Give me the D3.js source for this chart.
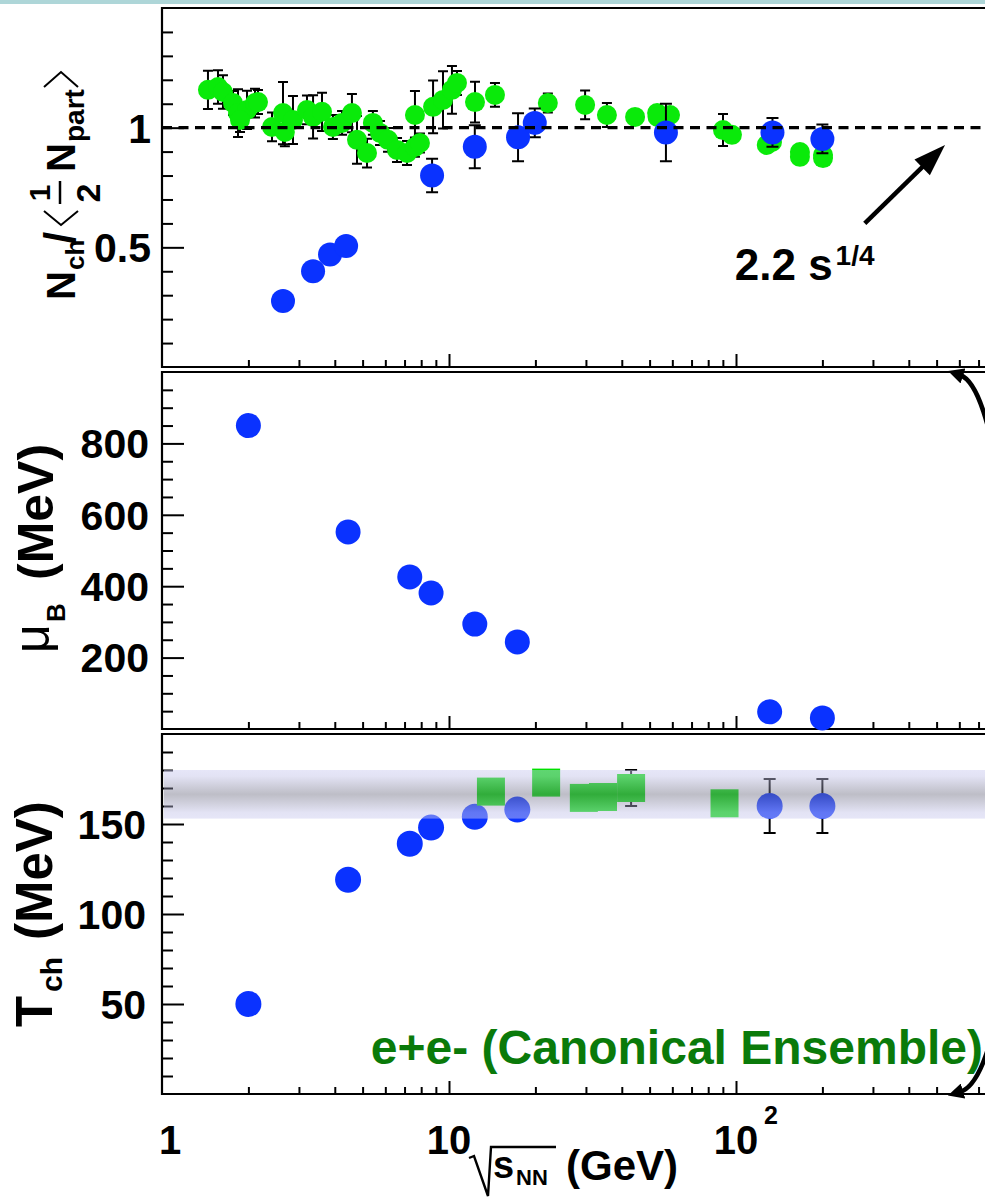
<!DOCTYPE html>
<html><head><meta charset="utf-8">
<script src="https://cdn.jsdelivr.net/npm/d3@7"></script>
<style>
html,body{margin:0;padding:0;background:#fff;}
svg{display:block;}
text{font-family:"Liberation Sans",Arial,Helvetica,sans-serif;}
</style></head><body>
<svg id="chart" width="985" height="1201"></svg>
<script>
// ---------- DATA ----------
// Panel 1: Nch / <Npart/2>
const nchBlueX   = [2.64, 3.36, 3.85, 4.38, 8.73, 12.3, 17.4, 19.9, 57, 134, 200];
const nchBlueY   = [0.276, 0.40, 0.47, 0.506, 0.80, 0.92, 0.96, 1.02, 0.98, 0.98, 0.953];
const nchBlueErr = [0, 0, 0, 0, 0.07, 0.09, 0.10, 0.06, 0.12, 0.06, 0.06];

const nchGreenX = [1.446, 1.567, 1.631, 1.768, 1.84, 1.978, 2.109, 2.16, 1.87, 2.417, 2.64, 2.68, 2.86, 3.20, 3.36, 3.61,
  3.94, 4.24, 4.59, 4.78, 5.18, 5.43, 5.75, 6.13, 6.59, 7.14, 7.61, 7.92, 7.61, 8.80, 9.53, 10.24, 10.66, 12.32, 14.46,
  22.1, 29.8, 35.5, 44.5, 53.1, 58.9, 53.3, 90.1, 96.8, 128, 133.5, 167, 201, 167, 201];
const nchGreenY = [1.158, 1.170, 1.149, 1.103, 1.061, 1.074, 1.103, 1.107, 1.032, 1.003, 1.061, 0.982, 1.032, 1.074, 1.045, 1.066,
  1.003, 1.020, 1.061, 0.949, 0.894, 1.020, 0.978, 0.949, 0.907, 0.894, 0.919, 0.936, 1.053, 1.087, 1.116, 1.158, 1.187, 1.107, 1.137,
  1.103, 1.095, 1.053, 1.045, 1.061, 1.053, 1.045, 0.990, 0.970, 0.928, 0.940, 0.898, 0.886, 0.878, 0.873];
const nchGreenErr = [0.08, 0.07, 0.07, 0.05, 0.10, 0.08, 0.06, 0.05, 0.05, 0.06, 0.13, 0.06, 0.10, 0.06, 0.09, 0.08,
  0.05, 0.05, 0.08, 0.10, 0.06, 0.05, 0.05, 0.05, 0.05, 0.05, 0.04, 0.04, 0.10, 0.11, 0.12, 0.10, 0.05, 0.085, 0.05,
  0.04, 0.06, 0.05, 0.01, 0.02, 0.02, 0.02, 0.067, 0.02, 0.02, 0.02, 0.02, 0.03, 0.02, 0.02];

// Panel 2: mu_B (MeV)
const muX = [2.0, 4.45, 7.3, 8.66, 12.3, 17.3, 131, 200];
const muY = [850, 552, 426, 381, 294, 244, 48, 31];

// Panel 3: T_ch (MeV)
const tBlueX   = [2.0, 4.45, 7.3, 8.66, 12.3, 17.3, 131, 200];
const tBlueY   = [50, 119, 139, 148, 154, 158, 160, 160];
const tBlueErr = [0, 0, 0, 0, 0, 0, 15, 15];
const tGreenX   = [14.0, 21.8, 29.5, 34.4, 43.1, 91.2];
const tGreenY   = [168, 173, 164.5, 165, 170, 161.5];
const tGreenErr = [0, 0, 0, 0, 10, 0];
const tBand = [153, 180];

// Ticks
const xMajorTicks = [1, 10, 100, 1000];
const xMinorTicks = [2,3,4,5,6,7,8,9,20,30,40,50,60,70,80,90,200,300,400,500,600,700,800,900];
const nchMajor = [0.5, 1];
const nchMinor = [0.1,0.2,0.3,0.4,0.6,0.7,0.8,0.9,1.1,1.2,1.3,1.4];
const muMajor = [200, 400, 600, 800];
const muMinor = [50,100,150,250,300,350,450,500,550,650,700,750,850,900,950];
const tMajor = [50, 100, 150];
const tMinor = [10,20,30,40,60,70,80,90,110,120,130,140,160,170,180,190];

// Annotations (data coordinates)
const refLineY = 1;
const arrowFrom = [281, 0.60];
const arrowTo = [535, 0.928];
const sLabelPos = [99, 0.364];

// ---------- DRAW ----------
const W = 985, H = 1201;
const BLUE = "#0a32ff", GREEN = "#0aea0a";
const svg = d3.select("#chart");
svg.append("rect").attr("width", W).attr("height", H).attr("fill", "#fff");
svg.append("rect").attr("x", 0).attr("y", 0).attr("width", W).attr("height", 4).attr("fill", "#aed6d8");

const defs = svg.append("defs");
const grad = defs.append("linearGradient").attr("id", "band").attr("x1", 0).attr("y1", 0).attr("x2", 0).attr("y2", 1);
[[0, "rgb(202,202,240)", 0.47], [0.13, "rgb(195,195,232)", 0.47], [0.5, "rgb(110,110,130)", 0.45],
 [0.87, "rgb(195,195,232)", 0.47], [1, "rgb(202,202,240)", 0.47]].forEach(s =>
  grad.append("stop").attr("offset", s[0]).attr("stop-color", s[1]).attr("stop-opacity", s[2]));
defs.append("marker").attr("id", "hook").attr("viewBox", "0 0 10 10").attr("refX", 2).attr("refY", 5)
  .attr("markerWidth", 3.5).attr("markerHeight", 3.5).attr("orient", "auto-start-reverse")
  .append("path").attr("d", "M0,0L10,5L0,10z").attr("fill", "#000");

const x = d3.scaleLog().domain([1, 1000]).range([162, 1023]);
const y1 = d3.scaleLinear().domain([0, 1.5]).range([367, 8]);
const y2 = d3.scaleLinear().domain([0, 1000]).range([729, 372]);
const y3 = d3.scaleLinear().domain([0, 200]).range([1094, 734]);
const x0 = x(1);

function frame(y) {
  const [b, t] = y.range();
  const g = svg.append("g");
  const gx = g.append("g").attr("transform", `translate(0,${b})`);
  gx.call(d3.axisBottom(x).tickValues(xMinorTicks).tickSize(-7).tickFormat(""));
  gx.append("g").call(d3.axisBottom(x).tickValues(xMajorTicks.filter(v => v > 1)).tickSize(-13).tickFormat(""));
  gx.selectAll(".domain").remove();
  gx.selectAll("line").attr("stroke", "#000").attr("stroke-width", 2);
  g.append("path").attr("d", `M${W + 20},${t}H${x0}V${b}H${W + 20}`)
    .attr("fill", "none").attr("stroke", "#000").attr("stroke-width", 2.2);
}
function yAxis(y, major, minor, fmt, pad) {
  const g = svg.append("g").attr("transform", `translate(${x0},0)`);
  g.call(d3.axisLeft(y).tickValues(minor).tickSize(-11).tickFormat(""));
  const gm = g.append("g").call(d3.axisLeft(y).tickValues(major).tickSize(-22).tickPadding(pad).tickFormat(fmt));
  g.selectAll(".domain").remove();
  g.selectAll("line").attr("stroke", "#000").attr("stroke-width", 2);
  gm.selectAll("text").attr("font-family", "Liberation Sans, Arial, sans-serif")
    .attr("font-size", 41).attr("font-weight", "bold").attr("fill", "#000").attr("dy", "0.35em");
}

function errBars(g, xs, ys, es, y, cap) {
  const idx = d3.range(xs.length).filter(i => es[i] > 0);
  g.selectAll(null).data(idx).join("path")
    .attr("d", i => {
      const cx = x(xs[i]), lo = y(ys[i] - es[i]), hi = y(ys[i] + es[i]);
      return `M${cx},${lo}V${hi}M${cx - cap},${lo}H${cx + cap}M${cx - cap},${hi}H${cx + cap}`;
    })
    .attr("stroke", "#000").attr("stroke-width", 2).attr("fill", "none");
}

// ----- Panel 1 -----
frame(y1);
yAxis(y1, nchMajor, nchMinor, d => d === 1 ? "1" : "0.5", 11);
const p1 = svg.append("g");
errBars(p1, nchGreenX, nchGreenY, nchGreenErr, y1, 5);
p1.selectAll(null).data(d3.range(nchGreenX.length)).join("circle")
  .attr("cx", i => x(nchGreenX[i])).attr("cy", i => y1(nchGreenY[i])).attr("r", 10).attr("fill", GREEN);
errBars(p1, nchBlueX, nchBlueY, nchBlueErr, y1, 6);
p1.selectAll(null).data(d3.range(nchBlueX.length)).join("circle")
  .attr("cx", i => x(nchBlueX[i])).attr("cy", i => y1(nchBlueY[i])).attr("r", 12).attr("fill", BLUE);
p1.append("line").attr("x1", x0).attr("x2", W).attr("y1", y1(refLineY)).attr("y2", y1(refLineY))
  .attr("stroke", "#000").attr("stroke-width", 3.4).attr("stroke-dasharray", "10,6.5");
{
  const ax1 = x(arrowFrom[0]), ay1 = y1(arrowFrom[1]), ax2 = x(arrowTo[0]), ay2 = y1(arrowTo[1]);
  const dx = ax2 - ax1, dy = ay2 - ay1, L = Math.hypot(dx, dy), ux = dx / L, uy = dy / L;
  const bx = ax2 - 32 * ux, by = ay2 - 32 * uy;
  p1.append("line").attr("x1", ax1).attr("y1", ay1).attr("x2", bx + 3 * ux).attr("y2", by + 3 * uy)
    .attr("stroke", "#000").attr("stroke-width", 4.5);
  p1.append("path").attr("d", `M${ax2},${ay2}L${bx - 11 * uy},${by + 11 * ux}L${bx + 11 * uy},${by - 11 * ux}Z`).attr("fill", "#000");
}
const sl = p1.append("text").attr("x", x(sLabelPos[0])).attr("y", y1(sLabelPos[1]))
  .attr("font-size", 44).attr("font-weight", "bold").attr("fill", "#000");
sl.append("tspan").text("2.2 s");
sl.append("tspan").attr("dy", -15).attr("dx", 3).attr("font-size", 28).text("1/4");

// ----- Panel 2 -----
frame(y2);
yAxis(y2, muMajor, muMinor, d => String(d), 13);
svg.append("g").selectAll(null).data(d3.range(muX.length)).join("circle")
  .attr("cx", i => x(muX[i])).attr("cy", i => y2(muY[i])).attr("r", 12.5).attr("fill", BLUE);

// ----- Panel 3 -----
frame(y3);
yAxis(y3, tMajor, tMinor, d => String(d), 16);
const p3 = svg.append("g");
errBars(p3, tBlueX, tBlueY, tBlueErr, y3, 6);
p3.selectAll(null).data(d3.range(tBlueX.length)).join("circle")
  .attr("cx", i => x(tBlueX[i])).attr("cy", i => y3(tBlueY[i])).attr("r", 13).attr("fill", BLUE);
errBars(p3, tGreenX, tGreenY, tGreenErr, y3, 6);
p3.selectAll(null).data(d3.range(tGreenX.length)).join("rect")
  .attr("x", i => x(tGreenX[i]) - 14).attr("y", i => y3(tGreenY[i]) - 14)
  .attr("width", 28).attr("height", 28).attr("fill", "#00e000");
p3.append("rect").attr("x", x0 + 2).attr("y", y3(tBand[1])).attr("width", W - x0)
  .attr("height", y3(tBand[0]) - y3(tBand[1])).attr("fill", "url(#band)");
svg.append("text").attr("x", 983).attr("y", 1064).attr("text-anchor", "end")
  .attr("font-size", 48).attr("font-weight", "bold").attr("fill", "#0a7a0a")
  .text("e+e- (Canonical Ensemble)");

// right-hand bracket
svg.append("path").attr("d", "M960,375 C1030,398 1040,1068 960,1092")
  .attr("fill", "none").attr("stroke", "#000").attr("stroke-width", 4.5)
  .attr("marker-start", "url(#hook)").attr("marker-end", "url(#hook)");

// ----- X labels -----
const xl = svg.append("g").attr("font-size", 40).attr("font-weight", "bold").attr("fill", "#000");
xl.append("text").attr("x", x(1) + 8).attr("y", 1154).attr("text-anchor", "middle").text("1");
xl.append("text").attr("x", x(10)).attr("y", 1154).attr("text-anchor", "middle").text("10");
xl.append("text").attr("x", x(100)).attr("y", 1154).attr("text-anchor", "middle").text("10");
xl.append("text").attr("x", x(100) + 28).attr("y", 1124).attr("font-size", 25).text("2");

// x title  √s_NN (GeV)
const xt = svg.append("g").attr("fill", "#000");
xt.append("path").attr("d", "M469,1158 L474,1156 L488,1196 L491,1147 H556")
  .attr("fill", "none").attr("stroke", "#000").attr("stroke-width", 2.4);
xt.append("text").attr("x", 493).attr("y", 1178).attr("font-size", 38).attr("font-weight", "bold").text("s");
xt.append("text").attr("x", 516).attr("y", 1185).attr("font-size", 22).attr("font-weight", "bold").text("NN");
xt.append("text").attr("x", 566).attr("y", 1180).attr("font-size", 42).attr("font-weight", "bold").text("(GeV)");

// ----- Y titles -----
function rot(tx, ty) { return svg.append("g").attr("transform", `translate(${tx},${ty}) rotate(-90)`).attr("fill", "#000"); }
{
  const g = rot(75, 300);
  const t = (s, lx, ly, fs, anchor) => g.append("text").attr("x", lx).attr("y", ly).attr("font-size", fs)
    .attr("font-weight", "bold").attr("text-anchor", anchor || "start").text(s);
  t("N", 0, 0, 40); t("ch", 30, 9, 26); t("/", 56, 0, 44);
  g.append("path").attr("d", "M89,-31L75,-14L89,3").attr("fill", "none").attr("stroke", "#000").attr("stroke-width", 2);
  t("1", 107, -25, 30, "middle");
  g.append("line").attr("x1", 96).attr("x2", 119).attr("y1", -15).attr("y2", -15).attr("stroke", "#000").attr("stroke-width", 2.5);
  t("2", 107, 25, 34, "middle");
  t("N", 128, 0, 40); t("part", 158, 9, 28);
  g.append("path").attr("d", "M213,-31L228,-14L213,3").attr("fill", "none").attr("stroke", "#000").attr("stroke-width", 2);
}
{
  const g = rot(53, 653);
  g.append("text").attr("x", 0).attr("y", -4).attr("font-size", 50).text("μ");
  g.append("text").attr("x", 31).attr("y", 12).attr("font-size", 26).attr("font-weight", "bold").text("B");
  g.append("text").attr("x", 73).attr("y", 0).attr("font-size", 50).attr("font-weight", "bold").text("(MeV)");
}
{
  const g = rot(52, 1027);
  g.append("text").attr("x", 0).attr("y", 0).attr("font-size", 51).attr("font-weight", "bold").text("T");
  g.append("text").attr("x", 35).attr("y", 10).attr("font-size", 30).attr("font-weight", "bold").text("ch");
  g.append("text").attr("x", 87).attr("y", 0).attr("font-size", 51).attr("font-weight", "bold").text("(MeV)");
}
</script>
</body></html>
